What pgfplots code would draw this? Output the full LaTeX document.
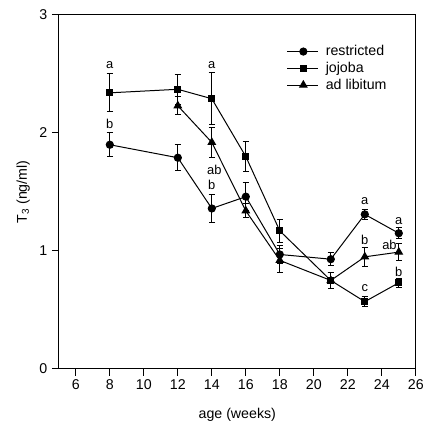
\documentclass[border=0pt]{standalone}
\usepackage{fontspec}
\setmainfont{Liberation Sans}
\usepackage{pgfplots}
\pgfplotsset{compat=1.18}
\begin{document}
\begin{tikzpicture}[font=\fontsize{14.3}{16}\selectfont]
\begin{axis}[name=ax,
  scale only axis, width=358bp, height=355bp,
  xmin=5, xmax=26, ymin=0, ymax=3,
  xtick={6,8,...,26}, ytick={0,1,2,3},
  /pgf/number format/assume math mode=true,
  tick align=outside, xtick pos=left, ytick pos=left,
  major tick length=7bp,
  axis line style={line width=1bp},
  tick style={line width=1bp, black},
  xlabel={age (weeks)},
  ylabel={T\textsubscript{3} (ng/ml)},
  xlabel style={at={(axis description cs:0.5,-0.13)}, anchor=center},
  ylabel style={at={(axis description cs:-0.1,0.5)}, anchor=center},
  yticklabel style={xshift=-1bp},
  legend style={at={(axis description cs:0.63,0.925)}, anchor=north west, draw=none, fill=none,
    font=\fontsize{14.3}{16}\selectfont, row sep=1bp, cells={anchor=west}},
  legend image code/.code={\draw[mark repeat=2,mark phase=2] plot coordinates {(0bp,0bp) (16bp,0bp) (31bp,0bp)};\path (36bp,0bp);},
  error bars/error bar style={line width=1bp, black},
  error bars/error mark options={rotate=90, mark size=3.2bp, line width=1bp, black},
]
\addplot[black, line width=1bp, mark=*, mark options={fill=black, solid}, mark size=3.6bp,
  error bars/.cd, y dir=both, y explicit] table[x=x, y=y, y error=e] {
x y e
8 1.90 0.10
12 1.79 0.11
14 1.36 0.12
16 1.46 0.12
18 0.97 0.08
21 0.93 0.056
23 1.31 0.045
25 1.15 0.045
};
\addlegendentry{restricted}
\addplot[black, line width=1bp, mark=square*, mark options={fill=black, solid}, mark size=3.1bp,
  error bars/.cd, y dir=both, y explicit] table[x=x, y=y, y error=e] {
x y e
8 2.34 0.16
12 2.37 0.125
14 2.29 0.22
16 1.80 0.13
18 1.17 0.10
21 0.75 0.07
23 0.57 0.045
25 0.73 0.04
};
\addlegendentry{jojoba}
\addplot[black, line width=1bp, mark=triangle*, mark options={fill=black, solid}, mark size=4.2bp,
  error bars/.cd, y dir=both, y explicit] table[x=x, y=y, y error=e] {
x y e
12 2.23 0.075
14 1.92 0.13
16 1.34 0.06
18 0.92 0.10
21 0.75 0.07
23 0.95 0.08
25 0.99 0.07
};
\addlegendentry{ad libitum}
\begin{scope}[every node/.style={font=\fontsize{13}{15}\selectfont, inner sep=0pt}]
\node at (axis cs:8,2.576) {a};
\node at (axis cs:8,2.076) {b};
\node at (axis cs:14,2.576) {a};
\node at (axis cs:14.15,1.686) {ab};
\node at (axis cs:14,1.559) {b};
\node at (axis cs:23,1.426) {a};
\node at (axis cs:23,1.096) {b};
\node at (axis cs:23,0.686) {c};
\node at (axis cs:25,1.257) {a};
\node at (axis cs:24.45,1.053) {ab};
\node at (axis cs:25,0.825) {b};
\end{scope}
\end{axis}
\path ([xshift=-59bp,yshift=-49bp]ax.south west) rectangle ([xshift=10bp,yshift=15bp]ax.north east);
\end{tikzpicture}
\end{document}
